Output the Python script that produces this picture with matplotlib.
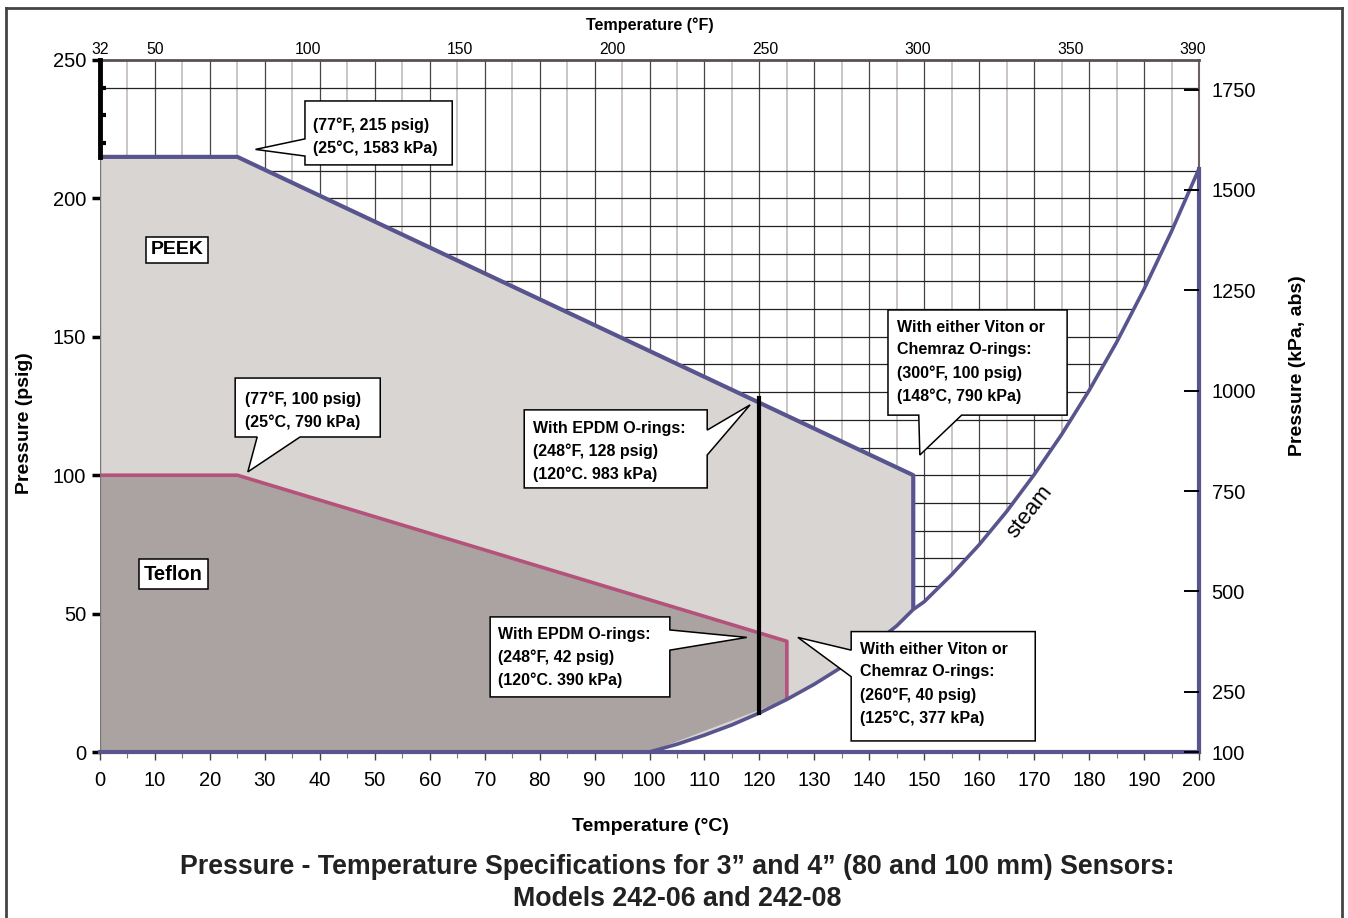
import matplotlib
matplotlib.use('Agg')
import matplotlib.pyplot as plt
from matplotlib.patches import Polygon
from matplotlib.lines import Line2D
from matplotlib.ticker import FixedLocator

plt.rcParams['font.family'] = ['Liberation Sans', 'DejaVu Sans']

# steam saturation curve (deg C, psig)
steam_c = [100, 105, 110, 115, 120, 125, 130, 135, 140, 145, 148, 150, 155,
           160, 165, 170, 175, 180, 185, 190, 195, 200]
steam_psig = [0, 2.8, 6.1, 9.8, 14.1, 19.0, 24.5, 30.7, 37.7, 45.6, 51.5, 54.3, 64.1,
              74.9, 86.9, 100.2, 114.7, 130.6, 148.0, 167.2, 188.1, 210.7]

# sensor limits
peek_c = [0, 25, 148, 148]
peek_psig = [215, 215, 100, 51.5]
teflon_c = [0, 25, 125, 125]
teflon_psig = [100, 100, 40, 19.0]
epdm_c = [120, 120]
epdm_psig = [128, 14.1]

c_ticks = list(range(0, 201, 10))
psig_ticks = [0, 50, 100, 150, 200, 250]
f_ticks = [32, 50, 100, 150, 200, 250, 300, 350, 390]
f_marks = [100, 200, 250, 300, 350]
kpa_ticks = [100, 250, 500, 750, 1000, 1250, 1500, 1750]

slate = '#58558e'
pink = '#b4527c'
peek_fill = '#d9d5d3'
teflon_fill = '#aba3a1'

fig = plt.figure(figsize=(13.48, 9.18), dpi=100)
ax = fig.add_axes([100 / 1348, 1 - 752 / 918, 1099 / 1348, 692 / 918])
ax.set_xlim(0, 200)
ax.set_ylim(0, 250)

# grid
for c in range(5, 200, 5):
    if c % 10 == 0:
        ax.axvline(c, color='#4a4444', lw=0.9, zorder=0.5)
    else:
        ax.axvline(c, color='#bfb5b5', lw=1.1, zorder=0.5)
for p in range(10, 250, 10):
    if p in (220, 230):
        continue
    ax.axhline(p, color='#222222', lw=0.9, zorder=0.5)

# white area under the steam curve
white = list(zip(steam_c, steam_psig)) + [(200, 0)]
ax.add_patch(Polygon(white, closed=True, fc='white', ec='none', zorder=1))

# PEEK region, bounded below by steam curve
peek_poly = [(0, 0)] + list(zip(peek_c, peek_psig))
peek_poly += [(c, p) for c, p in zip(steam_c[::-1], steam_psig[::-1]) if c < 148]
ax.add_patch(Polygon(peek_poly, closed=True, fc=peek_fill, ec='none', zorder=1.2))

# Teflon region
tef_poly = [(0, 0)] + list(zip(teflon_c, teflon_psig)) + [(steam_c[0], steam_psig[0])]
ax.add_patch(Polygon(tef_poly, closed=True, fc=teflon_fill, ec='none', zorder=1.4))

ax.plot(peek_c, peek_psig, color=slate, lw=3, zorder=3, solid_capstyle='butt')
ax.plot(teflon_c, teflon_psig, color=pink, lw=2.6, zorder=3, solid_capstyle='butt')
ax.plot(steam_c, steam_psig, color=slate, lw=2.6, zorder=3)
ax.plot([200, 200], [0, steam_psig[-1]], color=slate, lw=3, zorder=3, clip_on=False)
ax.plot(epdm_c, epdm_psig, color='black', lw=3, zorder=3.5)
ax.plot([0, 0], [0, 215], color='#777777', lw=1, zorder=2)
ax.plot([0, 0], [215, 250], color='black', lw=3.5, zorder=3, clip_on=False)

# spines
ax.spines['left'].set_visible(False)
ax.spines['top'].set_color('#5a5050')
ax.spines['top'].set_linewidth(2)
ax.spines['right'].set_color('#6b6060')
ax.spines['right'].set_linewidth(1.5)
ax.spines['bottom'].set_color(slate)
ax.spines['bottom'].set_linewidth(3)
ax.spines['bottom'].set_zorder(4)

# bottom axis
ax.set_xticks(c_ticks)
ax.xaxis.set_minor_locator(FixedLocator(list(range(5, 200, 10))))
ax.tick_params(axis='x', which='major', direction='out', length=6, width=1,
               color='#444444', labelsize=14.5, pad=8)
ax.tick_params(axis='x', which='minor', direction='out', length=4, width=0.8,
               color='#777777')
ax.set_xlabel('Temperature (°C)', fontsize=14, fontweight='bold')
ax.xaxis.set_label_coords(0.5005, -0.095)

# left axis
ax.set_yticks(psig_ticks)
ax.yaxis.set_minor_locator(FixedLocator([220, 230, 240]))
ax.tick_params(axis='y', which='major', direction='out', length=6, width=2.5,
               color='black', labelsize=14.5, pad=4)
ax.tick_params(axis='y', which='minor', direction='in', length=4, width=3,
               color='black')
ax.set_ylabel('Pressure (psig)', fontsize=14, fontweight='bold')
ax.yaxis.set_label_coords(-0.061, 0.475)

# top axis in deg F
top = ax.secondary_xaxis('top', functions=(lambda c: c * 9 / 5 + 32,
                                           lambda f: (f - 32) * 5 / 9))
top.set_zorder(7)
top.spines['top'].set_visible(False)
top.set_xticks(f_ticks)
top.xaxis.set_minor_locator(FixedLocator(f_marks))
top.tick_params(which='major', length=0, labelsize=11.3, pad=2)
top.tick_params(which='minor', direction='in', length=11, width=1.4, color='#333333')
top.set_xlabel('Temperature (°F)', fontsize=11.6, fontweight='bold', labelpad=9)

# right axis in kPa abs
right = ax.secondary_yaxis('right', functions=(lambda p: p * 6.895 + 100,
                                               lambda k: (k - 100) / 6.895))
right.set_zorder(7)
right.spines['right'].set_visible(False)
right.set_yticks(kpa_ticks)
right.tick_params(direction='in', length=11, width=1.4, color='black',
                  labelsize=14.4, pad=9)
fig.text(1298 / 1348, 1 - 366 / 918, 'Pressure (kPa, abs)', fontsize=14,
         fontweight='bold', rotation=90, ha='center', va='center')


def callout(x0, x1, y0, y1, side, b0, b1, tip):
    if side == 'left':
        pts = [(x0, y1), (x1, y1), (x1, y0), (x0, y0), (x0, b0), tip, (x0, b1)]
    elif side == 'right':
        pts = [(x0, y0), (x0, y1), (x1, y1), (x1, b1), tip, (x1, b0), (x1, y0)]
    else:
        pts = [(x0, y1), (x1, y1), (x1, y0), (b1, y0), tip, (b0, y0), (x0, y0)]
    ax.add_patch(Polygon(pts, closed=True, fc='white', ec='black', lw=1.1,
                         zorder=5, clip_on=False))


def note(x, y, s, size=11.5):
    ax.text(x, y, s, fontsize=size, fontweight='bold', ha='left', va='center',
            linespacing=1.6, zorder=6)


callout(37.3, 64.1, 212.1, 235.2, 'left', 215.3, 221.5, (28.3, 217.7))
note(38.8, 222.4, '(77°F, 215 psig)\n(25°C, 1583 kPa)')

callout(24.6, 51.0, 113.8, 135.1, 'bottom', 28.6, 36.4, (26.9, 101.2))
note(26.4, 123.2, '(77°F, 100 psig)\n(25°C, 790 kPa)')

callout(77.2, 110.5, 95.4, 123.6, 'right', 107.3, 116.3, (118.3, 125.4))
note(78.8, 108.6, 'With EPDM O-rings:\n(248°F, 128 psig)\n(120°C. 983 kPa)')

callout(143.4, 176.0, 121.7, 159.7, 'bottom', 149.0, 156.8, (149.2, 107.3))
note(145.0, 140.9, 'With either Viton or\nChemraz O-rings:\n(300°F, 100 psig)\n(148°C, 790 kPa)')

callout(71.0, 103.7, 19.9, 48.8, 'right', 36.8, 44.1, (117.7, 41.4))
note(72.4, 34.0, 'With EPDM O-rings:\n(248°F, 42 psig)\n(120°C. 390 kPa)')

callout(136.7, 170.2, 4.0, 43.5, 'left', 27.2, 36.8, (127.0, 41.4))
note(138.3, 24.6, 'With either Viton or\nChemraz O-rings:\n(260°F, 40 psig)\n(125°C, 377 kPa)')

ax.text(14.0, 181.4, 'PEEK', fontsize=14, fontweight='bold', ha='center', va='center',
        zorder=6, bbox=dict(boxstyle='square,pad=0.25', fc='white', ec='black', lw=1.1))
ax.text(13.3, 64.3, 'Teflon', fontsize=14.5, fontweight='bold', ha='center', va='center',
        zorder=6, bbox=dict(boxstyle='square,pad=0.25', fc='white', ec='black', lw=1.1))

ax.text(169.2, 86.7, 'steam', fontsize=16, rotation=52, ha='center', va='center',
        zorder=6)

fig.text(677 / 1348, 1 - 867 / 918,
         'Pressure - Temperature Specifications for 3\u201d and 4\u201d (80 and 100 mm) Sensors:',
         fontsize=19.3, fontweight='bold', ha='center', va='center', color='#222222')
fig.text(677 / 1348, 1 - 899 / 918, 'Models 242-06 and 242-08',
         fontsize=19.3, fontweight='bold', ha='center', va='center', color='#222222')

# outer frame
fig.add_artist(Line2D([6 / 1348, 6 / 1348], [0, 1 - 8 / 918], color='#444444', lw=2))
fig.add_artist(Line2D([6 / 1348, 1342 / 1348], [1 - 8 / 918, 1 - 8 / 918], color='#444444', lw=2))
fig.add_artist(Line2D([1342 / 1348, 1342 / 1348], [0, 1 - 8 / 918], color='#444444', lw=2))

fig.savefig('out.png', dpi=100)
